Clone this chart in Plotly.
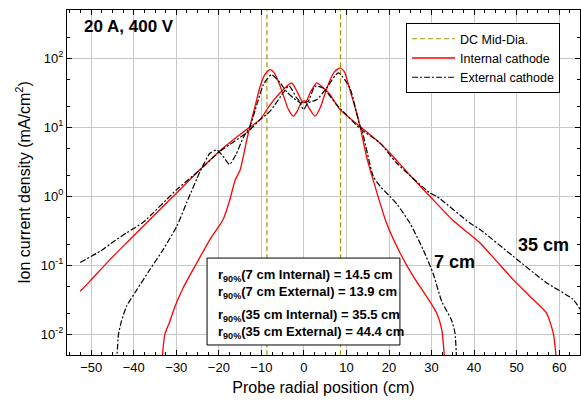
import plotly.graph_objects as go

# ---------------- data ----------------
int7_x = [-33.4, -32.7, -31.5, -30.3, -28.4, -25.2, -22.1, -19.0, -17.4, -16.2, -15.0, -13.5, -12.7,
          -11.5, -10.3, -9.2, -8.0, -7.0, -6.0, -4.9, -3.8, -2.5, -1.5, -0.5, 0.3, 1.2, 2.6, 3.8,
          4.9, 6.0, 7.2, 8.5, 9.5, 10.8, 12.4, 13.2, 14.7, 16.3, 19.4, 22.6, 25.7, 28.8, 31.2,
          32.4, 33.1]
int7_y = [0.004, 0.0100, 0.0155, 0.0255, 0.047, 0.108, 0.236, 0.46, 0.9, 1.7, 2.4, 6.3, 10.3,
          20, 39, 58, 68.6, 62, 46, 30, 19, 14.5, 17.5, 23.5, 24, 19, 14.5, 19,
          30, 46, 64, 72.6, 64, 35, 16, 10.3, 3.8, 1.7, 0.41, 0.151, 0.069, 0.0356, 0.0204,
          0.0117, 0.004]

int35_x = [-52.6, -50.3, -45.6, -40.9, -36.2, -30.7, -24.4, -19.0, -13.5, -10.3, -8.0, -4.9,
           -2.9, -1.5, -0.3, 0.5, 1.6, 3.0, 4.6, 6.1, 8.5, 13.2, 17.9, 20.2, 25.0, 29.6, 35.0,
           41.4, 45.0, 49.2, 53.1, 57.0, 58.6, 59.4]
int35_y = [0.042, 0.059, 0.121, 0.236, 0.46, 1.0, 2.44, 5.0, 9.3, 13, 21, 35,
           44, 32, 23, 23.5, 33, 44, 37, 30, 18, 10.3, 5.9, 4.25, 2.0, 1.0, 0.45,
           0.211, 0.12, 0.062, 0.0356, 0.0204, 0.0105, 0.004]

ext7_x = [-44.0, -43.6, -42.9, -41.7, -39.3, -36.2, -33.1, -29.9, -27.6, -24.4, -22.1, -20.5,
          -19.0, -17.5, -16.0, -14.3, -12.7, -11.0, -9.5, -7.6, -5.6, -4.1, -2.5, -0.9, -0.15,
          1.0, 3.0, 5.3, 8.1, 10.8, 13.2, 13.6, 16.3, 17.9, 20.2, 22.0, 25.0, 28.0, 30.4, 32.4,
          34.7, 35.5, 35.9]
ext7_y = [0.004, 0.0099, 0.0155, 0.0255, 0.044, 0.087, 0.169, 0.367, 0.8, 2.3, 4.2, 4.7,
          3.8, 2.9, 4.0, 7.0, 10.3, 22, 42, 58, 44, 33, 26.6, 22.6, 18,
          22.6, 25, 37, 61.5, 37, 10.3, 9.3, 1.95, 1.4, 1.0, 0.75, 0.4, 0.17, 0.075, 0.03,
          0.016, 0.0105, 0.004]

ext35_x = [-52.6, -47.9, -44.8, -41.7, -37.8, -29.9, -24.4, -19.7, -13.5, -10.3, -8.0, -4.9,
           -3.5, -1.7, -0.5, 1.0, 2.6, 4.5, 7.7, 13.2, 17.9, 21.8, 29.6, 31.2, 39.0, 41.4,
           49.2, 57.0, 63.3, 64.9]
ext35_y = [0.11, 0.16, 0.22, 0.295, 0.42, 1.25, 2.44, 4.5, 8.3, 12.9, 17, 31.5,
           40, 26.6, 22.6, 23.8, 39.4, 37, 21.3, 9.6, 5.9, 3.04, 1.12, 1.0, 0.41, 0.33,
           0.135, 0.056, 0.032, 0.023]

mid_dia = [-8.7, 8.6]
y_span = [0.001, 1000]

ytick_vals = [0.01, 0.1, 1, 10, 100]
ytick_text = ["10<sup>-2</sup>", "10<sup>-1</sup>", "10<sup>0</sup>", "10<sup>1</sup>", "10<sup>2</sup>"]
xtick_vals = [-50, -40, -30, -20, -10, 0, 10, 20, 30, 40, 50, 60]

r90_lines = [
    "r<sub>90%</sub>(7 cm Internal) = 14.5 cm",
    "r<sub>90%</sub>(7 cm External) = 13.9 cm",
    "r<sub>90%</sub>(35 cm Internal) = 35.5 cm",
    "r<sub>90%</sub>(35 cm External) = 44.4 cm",
]

# ---------------- figure ----------------
FONT = "Arial, Liberation Sans, Helvetica, sans-serif"
OLIVE = "#999900"
fig = go.Figure()

for i, xv in enumerate(mid_dia):
    fig.add_trace(go.Scatter(x=[xv, xv], y=y_span, mode="lines",
                             line=dict(color=OLIVE, width=1.2, dash="5px,3px"),
                             name="DC Mid-Dia.", showlegend=(i == 0), legendgroup="dc"))

red_line = dict(color="#ff0000", width=1.3, shape="spline", smoothing=0.6)
blk_line = dict(color="#000000", width=1.2, dash="6px,2px,2px,2px", shape="spline", smoothing=0.6)

fig.add_trace(go.Scatter(x=int7_x, y=int7_y, mode="lines", line=red_line,
                         name="Internal cathode", legendgroup="int"))
fig.add_trace(go.Scatter(x=int35_x, y=int35_y, mode="lines", line=red_line,
                         name="Internal cathode", showlegend=False, legendgroup="int"))
fig.add_trace(go.Scatter(x=ext7_x, y=ext7_y, mode="lines", line=blk_line,
                         name="External cathode", legendgroup="ext"))
fig.add_trace(go.Scatter(x=ext35_x, y=ext35_y, mode="lines", line=blk_line,
                         name="External cathode", showlegend=False, legendgroup="ext"))

axis_common = dict(showline=True, linecolor="black", linewidth=1, mirror="allticks",
                   ticks="inside", ticklen=5, tickcolor="black",
                   showgrid=True, gridcolor="#c8c8c8", gridwidth=1, zeroline=False,
                   tickfont=dict(family=FONT, size=13, color="black"))

fig.update_xaxes(range=[-55.7, 64.9], tickvals=xtick_vals,
                 minor=dict(ticks="inside", ticklen=3, dtick=2.5, tick0=0, showgrid=False, tickcolor="black"),
                 title=dict(text="Probe radial position (cm)", font=dict(family=FONT, size=16, color="black"),
                            standoff=8),
                 **axis_common)
fig.update_yaxes(type="log", range=[-2.3, 2.7], tickvals=ytick_vals, ticktext=ytick_text,
                 minor=dict(ticks="inside", ticklen=3, showgrid=False, tickcolor="black"),
                 title=dict(text="Ion current density (mA/cm<sup>2</sup>)",
                            font=dict(family=FONT, size=16, color="black"), standoff=6),
                 **axis_common)

fig.update_layout(
    width=581, height=402,
    margin=dict(l=67, r=1, t=10, b=47),
    plot_bgcolor="white", paper_bgcolor="white",
    font=dict(family=FONT, color="black"),
    legend=dict(x=0.661, y=0.962, xanchor="left", yanchor="top",
                bgcolor="white", bordercolor="black", borderwidth=1,
                font=dict(family=FONT, size=12.5, color="black"),
                tracegroupgap=0, itemwidth=43),
)

# text annotations
fig.add_annotation(x=0.029, y=0.951, xref="paper", yref="paper", xanchor="left", yanchor="middle",
                   text="<b>20 A, 400 V</b>", showarrow=False,
                   font=dict(family=FONT, size=17, color="black"))
fig.add_annotation(x=30.1, y=-0.946, xref="x", yref="y", xanchor="left", yanchor="middle",
                   text="<b>7 cm</b>", showarrow=False, font=dict(family=FONT, size=18, color="black"))
fig.add_annotation(x=49.8, y=-0.70, xref="x", yref="y", xanchor="left", yanchor="middle",
                   text="<b>35 cm</b>", showarrow=False, font=dict(family=FONT, size=18, color="black"))

# r90 box
fig.add_shape(type="rect", xref="paper", yref="paper", x0=0.273, x1=0.649, y0=0.029, y1=0.281,
              line=dict(color="black", width=1), fillcolor="white", layer="above")
line_py = [275, 292.5, 315, 332]
for txt, py in zip(r90_lines, line_py):
    fig.add_annotation(x=0.29, y=1 - (py - 10) / 345, xref="paper", yref="paper",
                       xanchor="left", yanchor="middle", text="<b>" + txt + "</b>",
                       showarrow=False, font=dict(family=FONT, size=13, color="black"))

fig.write_html("out.html")
